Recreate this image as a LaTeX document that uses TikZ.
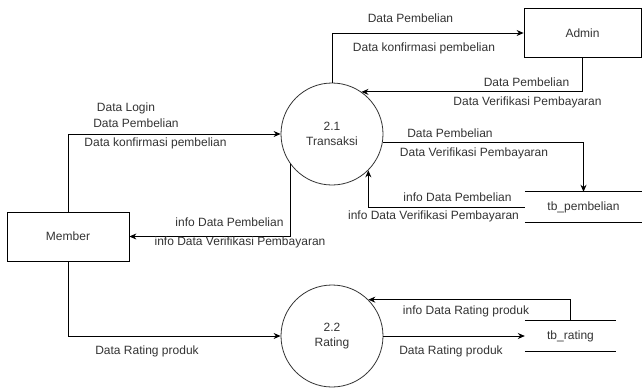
\documentclass[tikz,border=0pt]{standalone}
\usepackage{fontspec}
\setmainfont{Liberation Sans}
\usetikzlibrary{arrows.meta}
\begin{document}
\begin{tikzpicture}
    [%%%%%%%%%%%%%%%%%%%%%%%%%%%%%%
        x=1pt, y=-1pt,
        font=\fontsize{12}{15}\selectfont,
        entity/.style={rectangle,draw=black,line width=0.8pt,minimum width=122pt,minimum height=49pt,text=black!80},
        process/.style={circle,draw=black!80,line width=0.8pt,minimum size=102pt,inner sep=0pt,align=center,text=black!80},
        store/.style={rectangle,minimum height=30pt,inner sep=0pt,text=black!80},
        lbl/.style={inner sep=0pt,text=black!80},
        flow/.style={line width=0.8pt,-{Stealth[length=7pt,width=6pt]}},
    ]%%%%%%%%%%%%%%%%%%%%%%%%%%%%%%
    \useasboundingbox (0,0) rectangle (642,388);

    \node[entity] (member) at (68,236.5) {Member};
    \node[entity, minimum width=117pt] (admin) at (582.5,33) {Admin};
    \node[process] (trans) at (332,134) {2.1\\Transaksi};
    \node[process] (rating) at (332,336) {2.2\\Rating};
    \node[store, minimum width=117pt] (tbp) at (583.5,207) {tb\_pembelian};
    \node[store, minimum width=91pt] (tbr) at (570.5,336) {tb\_rating};

    \draw[line width=0.8pt] (tbp.north west) -- (tbp.north east) (tbp.south west) -- (tbp.south east);
    \draw[line width=0.8pt] (tbr.north west) -- (tbr.north east) (tbr.south west) -- (tbr.south east);

    \draw[flow] (member.north) |- (trans.west);
    \draw[flow] (trans.216) |- (member.east);
    \draw[flow] (trans.north) |- (admin.west);
    \draw[flow] (admin.south) |- (trans.55);
    \draw[flow] (trans.-9) -| (tbp.north);
    \draw[flow] (tbp.west) -| (trans.south east);
    \draw[flow] (member.south) |- (rating.west);
    \draw[flow] (rating.east) -- (tbr.west);
    \draw[flow] (tbr.north) |- (rating.north east);

    \node[lbl] (l1) at (126,108) {Data Login};
    \node[lbl] (l2) at (136,123) {Data Pembelian};
    \node[lbl] (l3) at (155.5,143) {Data konfirmasi pembelian};
    \node[lbl] (l4) at (229.5,222) {info Data Pembelian};
    \node[lbl] (l5) at (240,242) {info Data Verifikasi Pembayaran};
    \node[lbl] (l6) at (410.5,18) {Data Pembelian};
    \node[lbl] (l7) at (424,48) {Data konfirmasi pembelian};
    \node[lbl] (l8) at (526.5,82) {Data Pembelian};
    \node[lbl] (l9) at (527.5,102) {Data Verifikasi Pembayaran};
    \node[lbl] (l10) at (450,133) {Data Pembelian};
    \node[lbl] (l11) at (474,153) {Data Verifikasi Pembayaran};
    \node[lbl] (l12) at (457.5,197) {info Data Pembelian};
    \node[lbl] (l13) at (433.5,216) {info Data Verifikasi Pembayaran};
    \node[lbl] (l14) at (147,351) {Data Rating produk};
    \node[lbl] (l15) at (466,311) {info Data Rating produk};
    \node[lbl] (l16) at (451,351) {Data Rating produk};
\end{tikzpicture}
\end{document}
